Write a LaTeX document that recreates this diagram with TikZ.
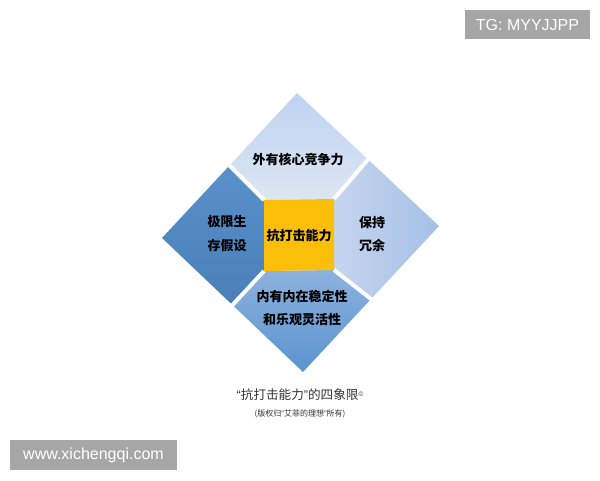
\documentclass[tikz,border=0pt]{standalone}
\usepackage{fontspec}
\setmainfont{Liberation Sans}
\newfontfamily\cjk{Noto Sans CJK SC}
\newfontfamily\lat{Liberation Sans}
\usetikzlibrary{calc}
\definecolor{topA}{HTML}{BED2F2}
\definecolor{topB}{HTML}{DDE6F2}
\definecolor{leftA}{HTML}{5A91CA}
\definecolor{leftB}{HTML}{4A7FB8}
\definecolor{rightA}{HTML}{C6D5EE}
\definecolor{rightB}{HTML}{A5C0E6}
\definecolor{botA}{HTML}{8DB2DE}
\definecolor{botB}{HTML}{5A93CE}
\definecolor{gold}{HTML}{FBBF0A}
\definecolor{wmgray}{HTML}{A6A6A6}
\definecolor{captxt}{HTML}{333333}
\tikzset{
  gapline/.style={white, line width=4pt},
  celltext/.style={font=\cjk\bfseries\fontsize{13}{23.5}\selectfont, align=center, text=black, inner sep=0pt},
  wmbox/.style={fill=wmgray, text=white, font=\lat\fontsize{16}{16}\selectfont, inner sep=0pt}
}
\begin{document}
\begin{tikzpicture}[x=1pt,y=-1pt]
\useasboundingbox (0,0) rectangle (600,480);
\fill[white] (0,0) rectangle (600,480);
% outer vertices
\coordinate (T) at (297,93);
\coordinate (R) at (439,226);
\coordinate (B) at (303,372);
\coordinate (L) at (162,238);
% edge midpoints
\coordinate (mTL) at ($(T)!0.5!(L)$);
\coordinate (mTR) at ($(T)!0.5!(R)$);
\coordinate (mBR) at ($(B)!0.5!(R)$);
\coordinate (mBL) at ($(B)!0.5!(L)$);
% square corners
\coordinate (sTL) at (264,200);
\coordinate (sTR) at (334,199);
\coordinate (sBR) at (334,270);
\coordinate (sBL) at (264,271);
% pieces
\shade[top color=topA, bottom color=topB] (T) -- (mTR) -- (sTR) -- (sTL) -- (mTL) -- cycle;
\shade[left color=rightA, right color=rightB] (mTR) -- (R) -- (mBR) -- (sBR) -- (sTR) -- cycle;
\shade[top color=botA, bottom color=botB] (mBR) -- (B) -- (mBL) -- (sBL) -- (sBR) -- cycle;
\shade[top color=leftA, bottom color=leftB] (mBL) -- (L) -- (mTL) -- (sTL) -- (sBL) -- cycle;
% gaps
\draw[gapline] ($(sTL)!1.15!(mTL)$) -- (sTL);
\draw[gapline] ($(sTR)!1.15!(mTR)$) -- (sTR);
\draw[gapline] ($(sBR)!1.15!(mBR)$) -- (sBR);
\draw[gapline] ($(sBL)!1.15!(mBL)$) -- (sBL);
% centre square
\fill[gold] (sTL) -- (sTR) -- (sBR) -- (sBL) -- cycle;
% texts
\node[celltext] (ttop) at (298,160) {外有核心竞争力};
\node[celltext] (tleft) at (227,233.5) {极限生\\存假设};
\node[celltext] (tcen) at (299,236) {抗打击能力};
\node[celltext] (tright) at (372,234) {保持\\冗余};
\node[celltext] (tbot) at (302,308) {内有内在稳定性\\和乐观灵活性};
% caption
\node[font=\cjk\fontsize{12.6}{14}\selectfont, text=captxt, inner sep=0pt] (cap) at (300,395)
  {{\lat “}抗打击能力{\lat ”}的四象限\raisebox{3pt}{\lat\fontsize{6.5}{6.5}\selectfont ©}};
\node[font=\cjk\fontsize{8}{9}\selectfont, text=captxt, inner sep=0pt] (sub) at (300,414)
  {(版权归{\lat “}艾菲的理想{\lat ”}所有)};
% watermarks
\node[wmbox, minimum width=125pt, minimum height=29pt] (tg) at (527.5,24.5) {TG: MYYJJPP};
\node[wmbox, minimum width=167pt, minimum height=30pt] (www) at (93.5,455) {www.xichengqi.com};
\end{tikzpicture}
\end{document}
